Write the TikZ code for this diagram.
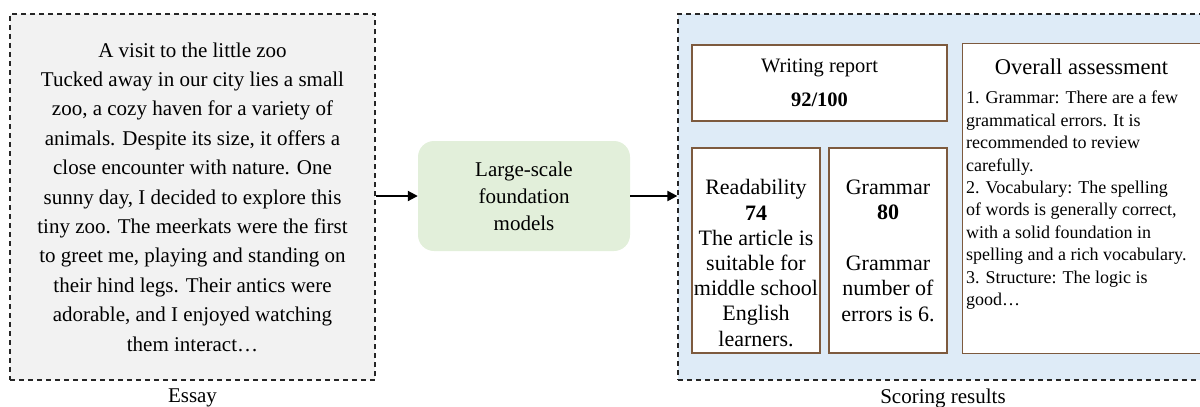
\documentclass[tikz,border=0pt]{standalone}
\usepackage{fontspec}
\setmainfont{Liberation Serif}
\usetikzlibrary{arrows.meta,positioning}

\definecolor{essaygray}{RGB}{242,242,242}
\definecolor{modelgreen}{RGB}{226,239,218}
\definecolor{panelblue}{RGB}{222,235,247}
\definecolor{boxbrown}{RGB}{125,90,62}

\tikzset{
  panel/.style={draw=black!85, dashed, dash pattern=on 5pt off 4pt, line width=1.2pt,
    inner sep=0pt},
  modelbox/.style={fill=modelgreen, rounded corners=16pt, minimum width=212pt,
    minimum height=110pt, align=center},
  scorebox/.style={draw=boxbrown, line width=1.3pt, fill=white, inner sep=0pt},
  caption/.style={font=\fontsize{21}{24}\selectfont, inner sep=0pt},
  flow/.style={-{Triangle[length=10pt,width=10pt]}, line width=2pt}
}

\begin{document}
\begin{tikzpicture}[x=1pt,y=-1pt]
  \clip (0,0) rectangle (1200,407);
  \useasboundingbox (0,0) rectangle (1200,407);

  % the essay on the left
  \node[panel, fill=essaygray, minimum width=365pt, minimum height=366pt,
        align=center, font=\fontsize{21}{29.4}\selectfont] (essay) at (192.5,197)
    {A visit to the little zoo\\
     Tucked away in our city lies a small\\
     zoo, a cozy haven for a variety of\\
     animals. Despite its size, it offers a\\
     close encounter with nature. One\\
     sunny day, I decided to explore this\\
     tiny zoo. The meerkats were the first\\
     to greet me, playing and standing on\\
     their hind legs. Their antics were\\
     adorable, and I enjoyed watching\\
     them interact\ldots};
  \node[caption] (essaycap) at (192.5,398) {Essay};

  % the model
  \node[modelbox, font=\fontsize{21}{27}\selectfont] (model) at (524,196)
    {Large-scale\\ foundation\\ models};

  % the scores on the right
  \node[panel, fill=panelblue, minimum width=530pt, minimum height=366pt] (results) at (943,197) {};
  \node[caption] (resultscap) at (943,398) {Scoring results};

  \node[scorebox, minimum width=255pt, minimum height=76pt, align=center,
        font=\fontsize{20.5}{34}\selectfont] (report) at (819.5,83)
    {Writing report\\ \textbf{92/100}};
  \node[scorebox, minimum width=128pt, minimum height=205pt] (readab) at (756,250.5) {};
  \node[align=center, inner sep=0pt, font=\fontsize{22}{25.2}\selectfont] (readtext) at (756,263)
    {Readability\\ \textbf{74}\\ The article is\\ suitable for\\ middle school\\ English\\ learners.};
  \node[scorebox, minimum width=118pt, minimum height=205pt, align=center,
        font=\fontsize{22}{25.4}\selectfont] (grammar) at (888,250.5)
    {Grammar\\ \textbf{80}\\[25.4pt] Grammar\\ number of\\ errors is 6.};
  \node[scorebox, minimum width=240pt, minimum height=310pt, anchor=north west] (overall) at (962,43) {};
  \node[font=\fontsize{22.5}{26}\selectfont, inner sep=0pt] (overtitle) at (1081.5,67) {Overall assessment};
  \node[font=\fontsize{18}{22.4}\selectfont, align=left, inner sep=0pt, anchor=north west]
        (overtext) at (966,91)
    {1. Grammar: There are a few\\
     grammatical errors. It is\\
     recommended to review\\
     carefully.\\
     2. Vocabulary: The spelling\\
     of words is generally correct,\\
     with a solid foundation in\\
     spelling and a rich vocabulary.\\
     3. Structure: The logic is\\
     good\ldots};

  \draw[flow] (essay.east |- model.west) -- (model.west);
  \draw[flow] (model.east) -- (results.west |- model.east);
\end{tikzpicture}
\end{document}
